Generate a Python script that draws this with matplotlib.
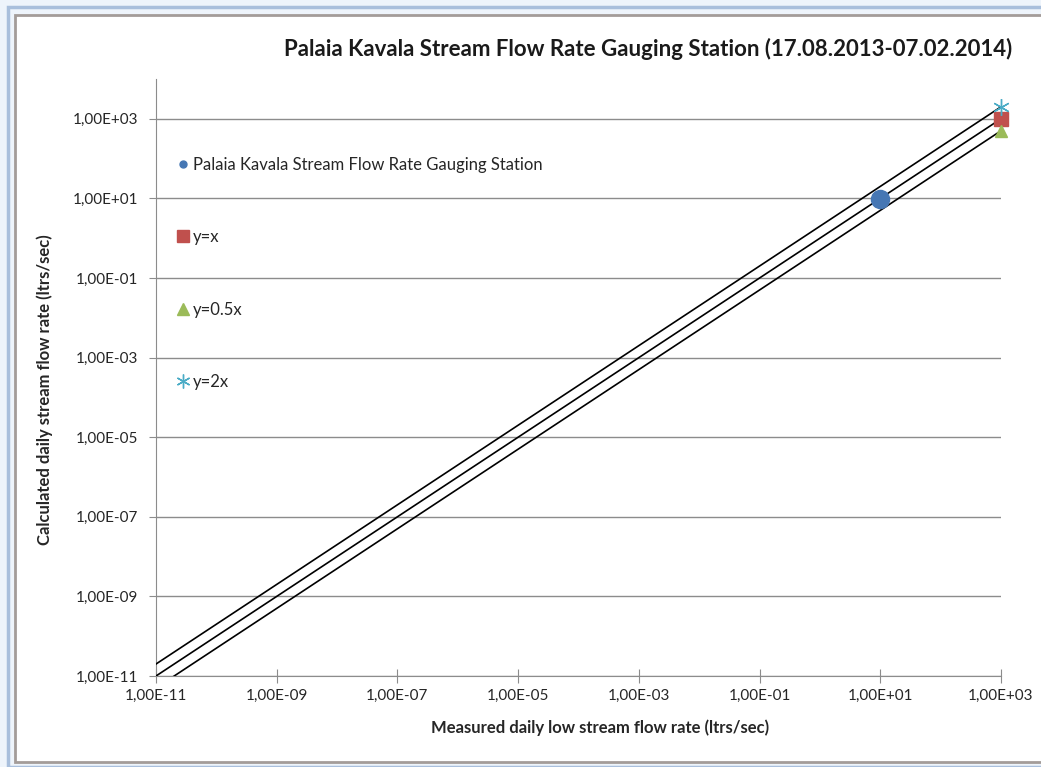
import matplotlib.pyplot as plt
from matplotlib.lines import Line2D
from matplotlib.patches import Rectangle
from matplotlib.ticker import FixedLocator, NullLocator

plt.rcParams['font.family'] = ['Lato', 'DejaVu Sans']

# measured station point
station_x = [10.0]
station_y = [9.6]

# reference lines, end points only
line_x = [1e-11, 1e3]
y_eq = [1e-11, 1e3]
y_half = [0.5e-11, 0.5e3]
y_double = [2e-11, 2e3]

ticks = [1e-11, 1e-9, 1e-7, 1e-5, 1e-3, 1e-1, 1e1, 1e3]
tick_labels = ['1,00E-11', '1,00E-09', '1,00E-07', '1,00E-05',
               '1,00E-03', '1,00E-01', '1,00E+01', '1,00E+03']

RED, GREEN, CYAN, BLUE = '#c0504d', '#9bbb59', '#4bacc6', '#4677b4'
ASTERISK = (6, 2, 0)

fig = plt.figure(figsize=(10.41, 7.67), dpi=100)
W, H = 1041, 767

# window / chart area frame, kept behind the axes
fig.patches.append(Rectangle((8 / W, 0), 1.2, (H - 7) / H,
                             transform=fig.transFigure, facecolor='none',
                             edgecolor='#a9bfdc', lw=2.5, zorder=-2))
fig.patches.append(Rectangle((15 / W, 5 / H), 1.2, (H - 20) / H,
                             transform=fig.transFigure, facecolor='white',
                             edgecolor='#a39c99', lw=2, zorder=-1))

ax = fig.add_axes([156 / W, 1 - 676 / H, (1001 - 156) / W, (676 - 79) / H])
ax.set_facecolor('none')
ax.set_xscale('log')
ax.set_yscale('log')
ax.set_xlim(1e-11, 1e3)
ax.set_ylim(1e-11, 1e4)

for yv in ticks:
    ax.axhline(yv, color='#8c8c8c', lw=1, zorder=1)

# lines clipped to the plot, end markers drawn unclipped
for ys in (y_eq, y_half, y_double):
    ax.plot(line_x, ys, color='black', lw=1.2, zorder=3)
ax.plot(line_x[-1:], y_eq[-1:], ls='none', marker='s', ms=10,
        color=RED, zorder=4, clip_on=False)
ax.plot(line_x[-1:], y_half[-1:], ls='none', marker='^', ms=9,
        color=GREEN, zorder=4, clip_on=False)
ax.plot(line_x[-1:], y_double[-1:], ls='none', marker=ASTERISK, ms=12,
        mew=1, mec=CYAN, zorder=4, clip_on=False)
ax.scatter(station_x, station_y, s=170, color=BLUE, zorder=5)

ax.xaxis.set_major_locator(FixedLocator(ticks))
ax.yaxis.set_major_locator(FixedLocator(ticks))
ax.xaxis.set_minor_locator(NullLocator())
ax.yaxis.set_minor_locator(NullLocator())
ax.set_xticklabels(tick_labels)
ax.set_yticklabels(tick_labels)
ax.tick_params(axis='x', direction='inout', length=10, color='#8c8c8c',
               labelsize=11, pad=4, labelcolor='#262626')
ax.tick_params(axis='y', direction='out', length=5, color='#8c8c8c',
               labelsize=11, pad=8, labelcolor='#262626')

for side in ['top', 'right']:
    ax.spines[side].set_visible(False)
for side in ['left', 'bottom']:
    ax.spines[side].set_color('#8c8c8c')

ax.set_xlabel('Measured daily low stream flow rate (ltrs/sec)',
              fontsize=12, fontweight='bold', color='#262626')
ax.set_ylabel('Calculated daily stream flow rate (ltrs/sec)',
              fontsize=12, fontweight='bold', color='#262626')
ax.xaxis.set_label_coords(0.525, -0.072)
ax.yaxis.set_label_coords(-0.122, 0.479)
fig.text(648 / W, 1 - 49 / H,
         'Palaia Kavala Stream Flow Rate Gauging Station (17.08.2013-07.02.2014)',
         fontsize=16, fontweight='bold', ha='center', va='center',
         color='#1a1a1a')

# legend entries show markers only
handles = [
    Line2D([], [], ls='none', marker='o', ms=5, color=BLUE),
    Line2D([], [], ls='none', marker='s', ms=8, color=RED),
    Line2D([], [], ls='none', marker='^', ms=8, color=GREEN),
    Line2D([], [], ls='none', marker=ASTERISK, ms=10, mew=1, mec=CYAN),
]
labels = ['Palaia Kavala Stream Flow Rate Gauging Station',
          'y=x', 'y=0.5x', 'y=2x']
ax.legend(handles, labels, loc='upper left', bbox_to_anchor=(0.0085, 0.895),
          frameon=False, labelspacing=3.39, handlelength=0.6,
          handletextpad=0.3, fontsize=12, labelcolor='#262626')

fig.savefig('out.png', dpi=100, facecolor='#eef4fb')
